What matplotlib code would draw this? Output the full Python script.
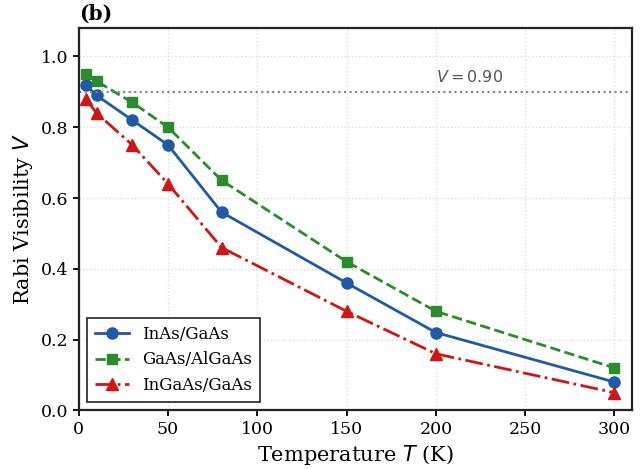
import matplotlib
matplotlib.use('Agg')
import matplotlib.pyplot as plt

# temperature points (K)
temps = [4, 10, 30, 50, 80, 150, 200, 300]

# Rabi visibility for each QD system
inas_gaas = [0.92, 0.89, 0.82, 0.75, 0.56, 0.36, 0.22, 0.08]
gaas_algaas = [0.95, 0.93, 0.87, 0.80, 0.65, 0.42, 0.28, 0.12]
ingaas_gaas = [0.88, 0.84, 0.75, 0.64, 0.46, 0.28, 0.16, 0.05]

labels = ['InAs/GaAs', 'GaAs/AlGaAs', 'InGaAs/GaAs']
threshold = 0.90

plt.rcParams['font.family'] = 'DejaVu Serif'

fig, ax = plt.subplots(figsize=(6.4, 4.69), dpi=100)
fig.subplots_adjust(left=0.123, right=0.988, top=0.94, bottom=0.125)

ax.plot(temps, inas_gaas, '-o', color='#1f5aa8', lw=2, ms=8, label=labels[0])
ax.plot(temps, gaas_algaas, '--s', color='#2a8c2a', lw=2, ms=7.5, label=labels[1])
ax.plot(temps, ingaas_gaas, '-.^', color='#d41414', lw=2, ms=8, label=labels[2])

ax.axhline(threshold, color='gray', ls=':', lw=1.5)
ax.text(219, threshold + 0.018, r'$V = 0.90$', color='#555555', fontsize=11.5,
        ha='center', va='bottom', family='DejaVu Sans')

ax.set_xlim(0, 310)
ax.set_ylim(0, 1.08)
ax.set_xticks([0, 50, 100, 150, 200, 250, 300])
ax.set_yticks([0.0, 0.2, 0.4, 0.6, 0.8, 1.0])
ax.set_xlabel(r'Temperature $T$ (K)', fontsize=15)
ax.set_ylabel(r'Rabi Visibility $V$', fontsize=15)
ax.tick_params(labelsize=12.5, width=1.3, length=4)
for s in ax.spines.values():
    s.set_linewidth(1.6)
    s.set_color('#222222')
ax.grid(True, ls=':', color='#dddddd', lw=1)

leg = ax.legend(loc='lower left', fontsize=12, fancybox=False, edgecolor='#222222',
                framealpha=1, borderpad=0.5)
leg.get_frame().set_linewidth(1.2)

ax.text(0.0, 1.012, '(b)', transform=ax.transAxes, fontsize=14.5, fontweight='bold',
        ha='left', va='bottom')

fig.savefig('out.png', dpi=100)
